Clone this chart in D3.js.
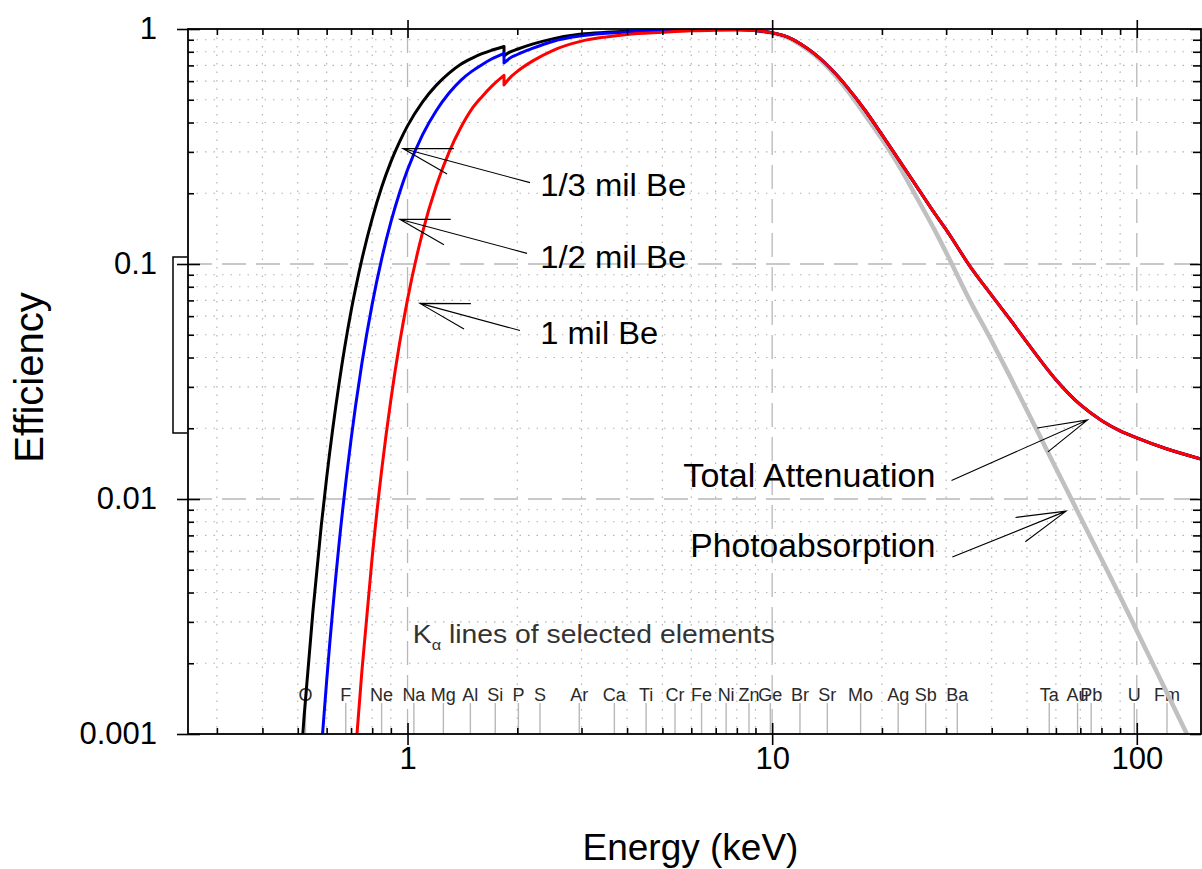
<!DOCTYPE html>
<html>
<head>
<meta charset="utf-8">
<title>Efficiency vs Energy</title>
<script src="https://cdn.jsdelivr.net/npm/d3@7"></script>
<style>
  body { margin: 0; background: #fff; }
  svg { display: block; font-family: "Liberation Sans", Arial, Helvetica, sans-serif; }
</style>
</head>
<body>
<svg width="1202" height="869"></svg>
<script>
// energies in keV, efficiencies
// low energy part: Be window transmission (Si edge at 1.839 keV)
var energyLow = [0.50, 0.52, 0.55, 0.58, 0.60, 0.65, 0.70, 0.72, 0.75, 0.80, 0.85, 0.90, 0.95, 1.00,
  1.10, 1.20, 1.30, 1.40, 1.50, 1.60, 1.70, 1.839, 1.839, 1.90, 2.00, 2.20, 2.50, 3.00, 3.50, 4.00,
  5.00, 6.00, 7.00, 8.00]
var beThird = [0.0005, 0.00117, 0.0033, 0.0077, 0.0123, 0.0315, 0.063, 0.0785, 0.105, 0.156, 0.213,
  0.272, 0.330, 0.387, 0.49, 0.577, 0.649, 0.708, 0.75, 0.785, 0.812, 0.843, 0.768, 0.795, 0.82,
  0.862, 0.908, 0.952, 0.968, 0.978, 0.988, 0.993, 0.995, 0.995]
var beHalf = [null, null, 0.00025, 0.00085, 0.00168, 0.0066, 0.0179, 0.0248, 0.038, 0.0675, 0.1057,
  0.1506, 0.200, 0.2516, 0.355, 0.450, 0.534, 0.605, 0.66, 0.705, 0.745, 0.788, 0.717, 0.748, 0.779,
  0.827, 0.885, 0.935, 0.958, 0.972, 0.985, 0.991, 0.994, 0.995]
var beOne = [null, null, null, null, null, null, 0.00044, 0.00083, 0.00187, 0.00566, 0.0134, 0.0264,
  0.0455, 0.0707, 0.1367, 0.2156, 0.2994, 0.3807, 0.456, 0.515, 0.57, 0.635, 0.578, 0.615, 0.66,
  0.73, 0.81, 0.888, 0.925, 0.948, 0.968, 0.982, 0.988, 0.99]

// high energy part: detector absorption
var energyHigh = [9, 10, 11, 12, 13, 14, 15, 16, 18, 20, 22, 25, 28, 30, 35, 40, 45, 50, 60, 70, 80,
  90, 100, 120, 150]
var totalAtten = [0.985, 0.963, 0.925, 0.862, 0.79, 0.715, 0.64, 0.57, 0.45, 0.355, 0.285, 0.212,
  0.163, 0.140, 0.097, 0.0735, 0.0579, 0.0464, 0.0322, 0.0252, 0.0216, 0.0195, 0.0182, 0.0164, 0.0148]
var photoAbs = [0.985, 0.962, 0.92, 0.853, 0.78, 0.703, 0.626, 0.553, 0.43, 0.34, 0.27, 0.19, 0.138,
  0.112, 0.069, 0.047, 0.033, 0.0238, 0.01353, 0.00839, 0.00555, 0.00385, 0.00275, 0.001535, 0.000752]

// K-alpha lines
var elements = ['O', 'F', 'Ne', 'Na', 'Mg', 'Al', 'Si', 'P', 'S', 'Ar', 'Ca', 'Ti', 'Cr', 'Fe', 'Ni',
  'Zn', 'Ge', 'Br', 'Sr', 'Mo', 'Ag', 'Sb', 'Ba', 'Ta', 'Au', 'Pb', 'U', 'Fm']
var kAlpha = [0.525, 0.677, 0.849, 1.041, 1.254, 1.487, 1.740, 2.014, 2.308, 2.958, 3.692, 4.511,
  5.415, 6.404, 7.478, 8.639, 9.886, 11.92, 14.17, 17.48, 22.16, 26.36, 32.19, 57.53, 68.80, 74.97,
  98.44, 121]

var xMajor = [1, 10, 100]
var yMajor = [0.001, 0.01, 0.1, 1]

// annotations: label, text anchor point, arrow tail, arrow tip (keV, efficiency)
var annoLabels = ['1/3 mil Be', '1/2 mil Be', '1 mil Be', 'Total Attenuation', 'Photoabsorption']
var annoText = [[2.311, 0.194], [2.311, 0.0958], [2.311, 0.0458], [28.03, 0.0112], [28.03, 0.00566]]
var annoTail = [[2.168, 0.222], [2.127, 0.111], [2.034, 0.0521], [31.04, 0.012], [31.2, 0.00566]]
var annoTip = [[0.971, 0.31], [0.952, 0.155], [1.081, 0.068], [73.3, 0.0217], [64.0, 0.00888]]

var svg = d3.select('svg')
var L = 188, R = 1201, T = 29, B = 734

var x = d3.scaleLog().domain([0.25, 150]).range([L, R])
var y = d3.scaleLog().domain([0.001, 1]).range([B, T])

var xMinor = x.ticks().filter(function (d) { return xMajor.indexOf(d) < 0 && d > 0.25 })
var yMinor = y.ticks().filter(function (d) { return yMajor.map(String).indexOf(String(d)) < 0 })

// grid
var grid = svg.append('g')
grid.selectAll('.vmin').data(xMinor).enter().append('line')
  .attr('x1', x).attr('x2', x).attr('y1', T).attr('y2', B)
grid.selectAll('.hmin').data(yMinor).enter().append('line')
  .attr('y1', y).attr('y2', y).attr('x1', L).attr('x2', R)
grid.selectAll('line').attr('stroke', '#b4b4b4').attr('stroke-width', 1.2).attr('stroke-dasharray', '1.5,7')

var gridMaj = svg.append('g')
gridMaj.selectAll('.vmaj').data(xMajor).enter().append('line')
  .attr('x1', x).attr('x2', x).attr('y1', T).attr('y2', B)
gridMaj.selectAll('.hmaj').data([0.01, 0.1]).enter().append('line')
  .attr('y1', y).attr('y2', y).attr('x1', L).attr('x2', R)
gridMaj.selectAll('line').attr('stroke', '#b8b8b8').attr('stroke-width', 1.3).attr('stroke-dasharray', '24,10')

// element lines
var el = svg.append('g')
el.selectAll('line').data(kAlpha).enter().append('line')
  .attr('x1', x).attr('x2', x).attr('y1', 703).attr('y2', B)
  .attr('stroke', '#b8b8b8').attr('stroke-width', 1.4)
el.selectAll('text').data(elements).enter().append('text')
  .attr('x', function (d, i) { return x(kAlpha[i]) }).attr('y', 701)
  .attr('text-anchor', 'middle').attr('font-size', 18).attr('fill', '#2a2a2a')
  .text(function (d) { return d })

var ka = svg.append('text')
  .attr('x', x(1.034)).attr('y', y(0.00245))
  .attr('font-size', 26).attr('fill', '#333')
  .attr('textLength', 362).attr('lengthAdjust', 'spacingAndGlyphs')
ka.append('tspan').text('K')
ka.append('tspan').attr('font-size', 15).attr('dy', 7).text('\u03b1')
ka.append('tspan').attr('dy', -7).text(' lines of selected elements')

// curves
svg.append('clipPath').attr('id', 'plot').append('rect')
  .attr('x', L).attr('y', T).attr('width', R - L).attr('height', B - T)

var line = d3.line().x(function (d) { return x(d[0]) }).y(function (d) { return y(d[1]) })
  .curve(d3.curveMonotoneX)

function series(vals) {
  var pts = energyLow.map(function (e, i) { return [e, vals[i]] })
    .filter(function (d) { return d[1] != null })
  energyHigh.forEach(function (e, i) { pts.push([e, totalAtten[i]]) })
  return pts
}

// split at the Si edge so the jump stays sharp
function edgePath(pts) {
  var k = 1
  while (k < pts.length && pts[k][0] !== pts[k - 1][0]) k++
  if (k >= pts.length) return line(pts)
  return line(pts.slice(0, k)) + line(pts.slice(k)).replace(/^M/, 'L')
}

var curves = svg.append('g').attr('clip-path', 'url(#plot)')
  .attr('fill', 'none').attr('stroke-linejoin', 'round')

curves.append('path')
  .attr('d', line(energyHigh.map(function (e, i) { return [e, photoAbs[i]] })))
  .attr('stroke', '#c0c0c0').attr('stroke-width', 4.5)

var beSets = [beThird, beHalf, beOne]
var beColors = ['#000', '#0000ff', '#ff0000']
beSets.forEach(function (s, i) {
  curves.append('path').attr('d', edgePath(series(s)))
    .attr('stroke', beColors[i]).attr('stroke-width', 3)
})

// axes
function tidy(g) {
  g.select('.domain').remove()
  g.selectAll('.tick line').attr('stroke', '#000').attr('stroke-width', 1.6)
  g.selectAll('text').attr('font-size', 31).attr('fill', '#000').attr('font-family', null)
}

svg.append('g').attr('transform', 'translate(0,' + B + ')')
  .call(d3.axisTop(x).tickValues(xMinor).tickSize(6).tickFormat('')).call(tidy)
svg.append('g').attr('transform', 'translate(0,' + B + ')')
  .call(d3.axisTop(x).tickValues(xMajor).tickSize(11).tickFormat('')).call(tidy)
svg.append('g').attr('transform', 'translate(0,' + B + ')')
  .call(d3.axisBottom(x).tickValues(xMajor).tickSize(11).tickPadding(2)
    .tickFormat(d3.format('~g'))).call(tidy)

svg.append('g').attr('transform', 'translate(0,' + T + ')')
  .call(d3.axisBottom(x).tickValues(xMinor).tickSize(6).tickFormat('')).call(tidy)
svg.append('g').attr('transform', 'translate(0,' + T + ')')
  .call(d3.axisBottom(x).tickValues(xMajor).tickSize(9).tickFormat('')).call(tidy)
svg.append('g').attr('transform', 'translate(0,' + T + ')')
  .call(d3.axisTop(x).tickValues(xMajor).tickSize(9).tickFormat('')).call(tidy)

svg.append('g').attr('transform', 'translate(' + L + ',0)')
  .call(d3.axisRight(y).tickValues(yMinor).tickSize(6).tickFormat('')).call(tidy)
svg.append('g').attr('transform', 'translate(' + L + ',0)')
  .call(d3.axisRight(y).tickValues(yMajor).tickSize(12).tickFormat('')).call(tidy)
svg.append('g').attr('transform', 'translate(' + L + ',0)')
  .call(d3.axisLeft(y).tickValues(yMajor).tickSize(11).tickPadding(20)
    .tickFormat(d3.format('~g'))).call(tidy)

svg.append('g').attr('transform', 'translate(' + R + ',0)')
  .call(d3.axisLeft(y).tickValues(yMinor).tickSize(8).tickFormat('')).call(tidy)
svg.append('g').attr('transform', 'translate(' + R + ',0)')
  .call(d3.axisLeft(y).tickValues(yMajor).tickSize(11).tickFormat('')).call(tidy)

svg.append('rect').attr('x', L).attr('y', T).attr('width', R - L).attr('height', B - T)
  .attr('fill', 'none').attr('stroke', '#000').attr('stroke-width', 1.8)

// small bracket on the left of the y axis
svg.append('path')
  .attr('d', 'M' + (L - 1) + ',' + y(0.107) + 'H' + (L - 15) + 'V' + y(0.0191) + 'H' + (L - 1))
  .attr('fill', 'none').attr('stroke', '#000').attr('stroke-width', 1.5)

// axis titles
svg.append('text').attr('x', (L + R) / 2 - 4).attr('y', 860)
  .attr('text-anchor', 'middle').attr('font-size', 37).text('Energy (keV)')
svg.append('text').attr('transform', 'translate(43,' + ((T + B) / 2 - 4) + ') rotate(-90)')
  .attr('text-anchor', 'middle').attr('font-size', 40).text('Efficiency')

// annotations
var annoWidths = [146, 146, 118, 252, 245]
var anno = svg.append('g')
annoLabels.forEach(function (lab, i) {
  var end = i > 2
  anno.append('text')
    .attr('x', x(annoText[i][0])).attr('y', y(annoText[i][1]))
    .attr('text-anchor', end ? 'end' : 'start')
    .attr('font-size', end ? 33 : 31)
    .attr('textLength', annoWidths[i]).attr('lengthAdjust', 'spacingAndGlyphs')
    .text(lab)
  var tx = x(annoTip[i][0]), ty = y(annoTip[i][1])
  var sx = x(annoTail[i][0]), sy = y(annoTail[i][1])
  var a = Math.atan2(sy - ty, sx - tx), spread = 0.26, len = 51
  var d = 'M' + sx + ',' + sy + 'L' + tx + ',' + ty +
    'M' + (tx + len * Math.cos(a - spread)) + ',' + (ty + len * Math.sin(a - spread)) + 'L' + tx + ',' + ty +
    'L' + (tx + len * Math.cos(a + spread)) + ',' + (ty + len * Math.sin(a + spread))
  anno.append('path').attr('d', d).attr('fill', 'none').attr('stroke', '#000').attr('stroke-width', 1.1)
})
</script>
</body>
</html>
